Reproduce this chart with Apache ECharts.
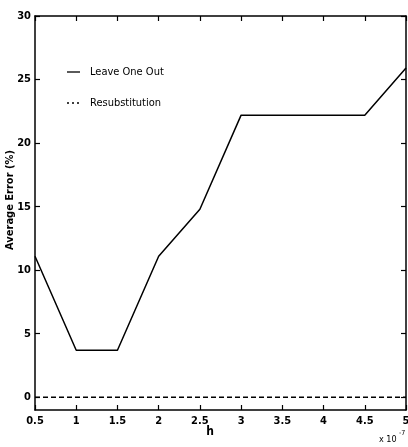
<!DOCTYPE html>
<html><head><meta charset="utf-8">
<script src="https://cdn.jsdelivr.net/npm/echarts@6/dist/echarts.min.js"></script>
<style>html,body{margin:0;padding:0;background:#fff}#c{width:408px;height:447px}</style>
</head><body><div id="c"></div>
<script>
const hValues = [0.5, 1, 1.5, 2, 2.5, 3, 3.5, 4, 4.5, 5];
const leaveOneOut = [11.1, 3.7, 3.7, 11.1, 14.8, 22.2, 22.2, 22.2, 22.2, 25.9];
const resubstitution = [0, 0, 0, 0, 0, 0, 0, 0, 0, 0];
const seriesNames = ['Leave One Out', 'Resubstitution'];
const yTicks = [0, 5, 10, 15, 20, 25, 30];
const yTitle = 'Average Error (%)';
const xTitle = 'h';

const font = '"DejaVu Sans Condensed", "Liberation Sans Narrow", "Liberation Sans", Arial, sans-serif';
const chart = echarts.init(document.getElementById('c'));
const axisLine = {show: true, onZero: false, lineStyle: {color: '#000', width: 1.5}};
const tick = {show: true, inside: true, length: 5, lineStyle: {color: '#000', width: 1.2}};
const lbl = {fontFamily: font, fontSize: 11, color: '#000', fontWeight: 'bold'};
chart.setOption({
  animation: false,
  grid: {left: 35, right: 2, top: 16, bottom: 37, containLabel: false, outerBoundsMode: 'none'},
  xAxis: [
    {type: 'value', min: 0.5, max: 5, interval: 0.5, position: 'bottom',
      axisLine: axisLine, axisTick: tick, splitLine: {show: false},
      axisLabel: Object.assign({margin: 6, formatter: v => String(v)}, lbl)},
    {type: 'value', min: 0.5, max: 5, interval: 0.5, position: 'top',
      axisLine: axisLine, axisTick: tick, splitLine: {show: false}, axisLabel: {show: false}}
  ],
  yAxis: [
    {type: 'value', min: -1, max: 30, position: 'left',
      axisLine: axisLine, splitLine: {show: false},
      axisLabel: Object.assign({margin: 4, customValues: yTicks}, lbl),
      axisTick: Object.assign({customValues: yTicks}, tick)},
    {type: 'value', min: -1, max: 30, position: 'right',
      axisLine: axisLine, splitLine: {show: false}, axisLabel: {show: false},
      axisTick: Object.assign({customValues: yTicks}, tick)}
  ],
  graphic: [
    {type: 'text', x: 10, y: 200, rotation: Math.PI / 2,
      style: {text: yTitle, fontFamily: font, fontSize: 11, fontWeight: 'bold', fill: '#000', align: 'center', verticalAlign: 'middle'}},
    {type: 'text', x: 210, y: 432,
      style: {text: xTitle, fontFamily: font, fontSize: 12, fontWeight: 'bold', fill: '#000', align: 'center', verticalAlign: 'middle'}},
    {type: 'line', shape: {x1: 67, y1: 72, x2: 80, y2: 72}, style: {stroke: '#000', lineWidth: 1.3}},
    {type: 'text', x: 90, y: 72, style: {text: seriesNames[0], fontFamily: font, fontSize: 11, fill: '#000', verticalAlign: 'middle'}},
    {type: 'line', shape: {x1: 67, y1: 103, x2: 80, y2: 103}, style: {stroke: '#000', lineWidth: 1.3, lineDash: [2, 3]}},
    {type: 'text', x: 90, y: 103, style: {text: seriesNames[1], fontFamily: font, fontSize: 11, fill: '#000', verticalAlign: 'middle'}},
    {type: 'text', x: 379, y: 435, style: {text: 'x 10', fontFamily: font, fontSize: 9, fill: '#000'}},
    {type: 'text', x: 399, y: 430, style: {text: '-7', fontFamily: font, fontSize: 7, fill: '#000'}}
  ],
  series: [
    {name: seriesNames[0], type: 'line', symbol: 'none', xAxisIndex: 0, yAxisIndex: 0,
      data: hValues.map((h, i) => [h, leaveOneOut[i]]),
      lineStyle: {color: '#000', width: 1.5}, itemStyle: {color: '#000'}},
    {name: seriesNames[1], type: 'line', symbol: 'none', xAxisIndex: 0, yAxisIndex: 0,
      data: hValues.map((h, i) => [h, resubstitution[i]]),
      lineStyle: {color: '#000', width: 1.5, type: [5, 3]}, itemStyle: {color: '#000'}}
  ]
});
</script></body></html>
